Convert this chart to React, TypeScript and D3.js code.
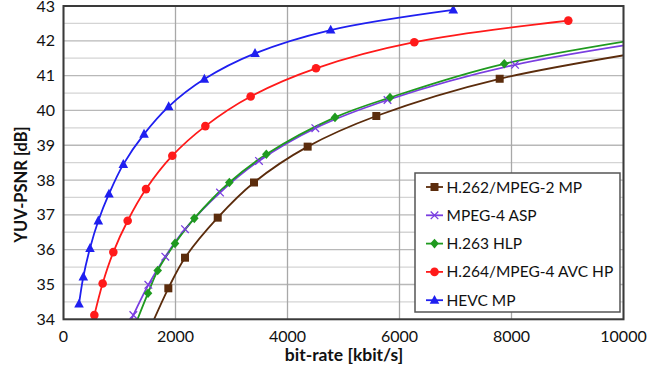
import React from "react";
import * as d3 from "d3";

const W = 650;
const H = 376;

// bit-rate [kbit/s] and YUV-PSNR [dB] per codec (points outside the axis range are clipped)
const h262Rate = [1400, 1872, 2170, 2754, 3402, 4360, 5586, 7789, 12000];
const h262Psnr = [33.2, 34.89, 35.77, 36.92, 37.93, 38.96, 39.84, 40.91, 42.1];

const mpeg4Rate = [1050, 1247, 1515, 1818, 2170, 2795, 3491, 4497, 5786, 8063, 12000];
const mpeg4Psnr = [33.4, 34.12, 34.99, 35.8, 36.59, 37.64, 38.55, 39.49, 40.3, 41.31, 42.35];

const h263Rate = [1150, 1509, 1682, 1991, 2336, 2961, 3622, 4848, 5830, 7871, 12000];
const h263Psnr = [33.3, 34.75, 35.4, 36.18, 36.9, 37.93, 38.74, 39.8, 40.37, 41.34, 42.48];

const h264Rate = [551, 699, 890, 1146, 1473, 1943, 2533, 3342, 4509, 6264, 9014];
const h264Psnr = [34.12, 35.03, 35.93, 36.83, 37.74, 38.7, 39.55, 40.4, 41.21, 41.96, 42.58];

const hevcRate = [277, 354, 473, 622, 812, 1068, 1438, 1878, 2515, 3420, 4771, 6960];
const hevcPsnr = [34.44, 35.22, 36.04, 36.83, 37.6, 38.45, 39.32, 40.11, 40.9, 41.64, 42.31, 42.89];

const seriesNames = ["H.262/MPEG-2 MP", "MPEG-4 ASP", "H.263 HLP", "H.264/MPEG-4 AVC HP", "HEVC MP"];
const seriesColors = ["#5b2c0c", "#7a3ee0", "#1f9a1f", "#ff1a1a", "#1f1ff0"];
const seriesMarkers = ["square", "cross", "diamond", "circle", "triangle"];
const seriesRates = [h262Rate, mpeg4Rate, h263Rate, h264Rate, hevcRate];
const seriesPsnr = [h262Psnr, mpeg4Psnr, h263Psnr, h264Psnr, hevcPsnr];

const xTicks = [0, 2000, 4000, 6000, 8000, 10000];
const yTicks = [34, 35, 36, 37, 38, 39, 40, 41, 42, 43];
const yMinor = d3.range(34, 43.01, 0.5);

const FONT = "Lato, 'Open Sans', sans-serif";

function Marker({ type, cx, cy, color }: { type: string; cx: number; cy: number; color: string }) {
  if (type === "square") return <rect x={cx - 4} y={cy - 4} width={8} height={8} fill={color} />;
  if (type === "circle") return <circle cx={cx} cy={cy} r={4.3} fill={color} />;
  if (type === "diamond")
    return <path d={`M${cx},${cy - 4.8}L${cx + 4.3},${cy}L${cx},${cy + 4.8}L${cx - 4.3},${cy}Z`} fill={color} />;
  if (type === "triangle")
    return <path d={`M${cx},${cy - 5.3}L${cx + 4.8},${cy + 3.6}L${cx - 4.8},${cy + 3.6}Z`} fill={color} />;
  return (
    <path
      d={`M${cx - 3.8},${cy - 3.8}L${cx + 3.8},${cy + 3.8}M${cx - 3.8},${cy + 3.8}L${cx + 3.8},${cy - 3.8}`}
      stroke={color}
      strokeWidth={1.3}
    />
  );
}

export default function App() {
  const x = d3.scaleLinear().domain([0, 10000]).range([63.5, 623.5]);
  const y = d3.scaleLinear().domain([34, 43]).range([319.3, 6]);
  const line = d3
    .line<[number, number]>()
    .x((d) => x(d[0]))
    .y((d) => y(d[1]))
    .curve(d3.curveCatmullRom.alpha(0.5));

  const [x0, x1] = x.range();
  const [yb, yt] = y.range();

  const legX = 415;
  const legY = 173;
  const legW = 205;
  const legH = 139;
  const rowH = 28.3;

  return (
    <svg
      width={W}
      height={H}
      style={{ position: "absolute", left: 0, top: 0, background: "#fff" }}
      fontFamily={FONT}
    >
      <defs>
        <clipPath id="plotclip">
          <rect x={x0} y={yt} width={x1 - x0} height={yb - yt} />
        </clipPath>
      </defs>
      <rect x={0} y={0} width={W} height={H} fill="#fff" />
      {/* gridlines */}
      {yMinor.map((v) => (
        <line
          key={"h" + v}
          x1={x0}
          x2={x1}
          y1={y(v)}
          y2={y(v)}
          stroke={Number.isInteger(v) ? "#b8b8b8" : "#d4d4d4"}
          strokeWidth={1.3}
        />
      ))}
      {xTicks.map((v) => (
        <line key={"v" + v} x1={x(v)} x2={x(v)} y1={yt} y2={yb} stroke="#a8a8a8" strokeWidth={1.3} />
      ))}
      {/* series */}
      <g clipPath="url(#plotclip)">
        {seriesNames.map((name, i) => {
          const pts: [number, number][] = seriesRates[i].map((r, j) => [r, seriesPsnr[i][j]]);
          return <path key={name} d={line(pts) || ""} fill="none" stroke={seriesColors[i]} strokeWidth={1.8} />;
        })}
      </g>
      {seriesNames.map((name, i) =>
        seriesRates[i].map((r, j) => {
          const p = seriesPsnr[i][j];
          if (r > 10000 || p < 34) return null;
          return <Marker key={name + j} type={seriesMarkers[i]} cx={x(r)} cy={y(p)} color={seriesColors[i]} />;
        })
      )}
      {/* plot border */}
      <rect x={x0} y={yt} width={x1 - x0} height={yb - yt} fill="none" stroke="#3a3a3a" strokeWidth={2} />
      {/* tick labels */}
      {xTicks.map((v) => (
        <text key={"xt" + v} x={x(v)} y={342} textAnchor="middle" fontSize={16} fill="#111">
          {v}
        </text>
      ))}
      {yTicks.map((v) => (
        <text key={"yt" + v} x={55} y={y(v) + 5.5} textAnchor="end" fontSize={16} fill="#111">
          {v}
        </text>
      ))}
      {/* axis titles */}
      <text x={344} y={361} textAnchor="middle" fontSize={17.5} fontWeight="bold" fill="#111">
        bit-rate [kbit/s]
      </text>
      <text
        transform={`translate(27,184.5) rotate(-90)`}
        textAnchor="middle"
        fontSize={16.5}
        fontWeight="bold"
        fill="#111"
      >
        YUV-PSNR [dB]
      </text>
      {/* legend */}
      <rect x={legX} y={legY} width={legW} height={legH} fill="#fff" stroke="#555" strokeWidth={1.5} />
      {seriesNames.map((name, i) => {
        const cy = legY + 14 + i * rowH;
        return (
          <g key={"lg" + name}>
            <line x1={426} x2={443} y1={cy} y2={cy} stroke={seriesColors[i]} strokeWidth={1.8} />
            <Marker type={seriesMarkers[i]} cx={434.5} cy={cy} color={seriesColors[i]} />
            <text x={446.5} y={cy + 5.5} fontSize={15.5} fill="#111">
              {name}
            </text>
          </g>
        );
      })}
    </svg>
  );
}
